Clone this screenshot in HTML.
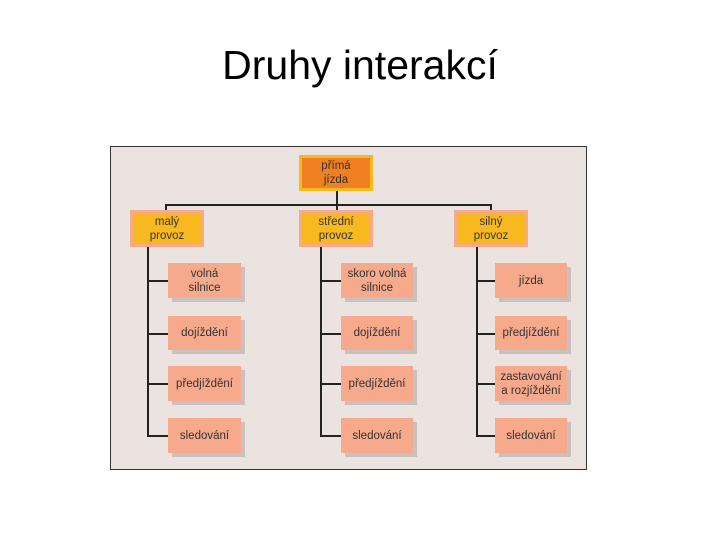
<!DOCTYPE html>
<html><head><meta charset="utf-8"><style>
body{margin:0;width:720px;height:540px;background:#fff;position:relative;font-family:"Liberation Sans",sans-serif;overflow:hidden}
.t{position:absolute;left:0;width:720px;top:42px;text-align:center;font-size:41px;color:#000}
.p{position:absolute;left:110px;top:146px;width:475px;height:322px;background:#ebe3df;border:1px solid #333}
.b{position:absolute;display:flex;align-items:center;justify-content:center;text-align:center;font-size:11.5px;line-height:14px;color:#333;box-sizing:border-box}
.c{background:#f6a98b;box-shadow:4px 4px 0 #c9c1bd}
.m{background:#f8b820;border:3px solid #f6a98b}
.l{position:absolute;background:#222}
</style></head><body>
<div class="t">Druhy interakcí</div>
<div class="p"></div>
<div class="b" style="left:299px;top:155px;width:74px;height:36px;background:#f08020;border:3px solid #f8b820">přímá<br>jízda</div>
<div class="l" style="left:336px;top:191px;width:2px;height:20px"></div>
<div class="l" style="left:165px;top:204px;width:327px;height:2px"></div>
<div class="l" style="left:165px;top:204px;width:2px;height:7px"></div>
<div class="l" style="left:490px;top:204px;width:2px;height:7px"></div>
<div class="b m" style="left:130px;top:210px;width:74px;height:37px">malý<br>provoz</div>
<div class="b m" style="left:299px;top:210px;width:74px;height:37px">střední<br>provoz</div>
<div class="b m" style="left:454px;top:210px;width:74px;height:37px">silný<br>provoz</div>
<div class="l" style="left:147px;top:247px;width:2px;height:189px"></div>
<div class="l" style="left:320px;top:247px;width:2px;height:189px"></div>
<div class="l" style="left:476px;top:247px;width:2px;height:189px"></div>
<div class="l" style="left:147px;top:280px;width:21px;height:2px"></div>
<div class="l" style="left:147px;top:333px;width:21px;height:2px"></div>
<div class="l" style="left:147px;top:383px;width:21px;height:2px"></div>
<div class="l" style="left:147px;top:435px;width:21px;height:2px"></div>
<div class="l" style="left:320px;top:280px;width:21px;height:2px"></div>
<div class="l" style="left:320px;top:333px;width:21px;height:2px"></div>
<div class="l" style="left:320px;top:383px;width:21px;height:2px"></div>
<div class="l" style="left:320px;top:435px;width:21px;height:2px"></div>
<div class="l" style="left:476px;top:280px;width:20px;height:2px"></div>
<div class="l" style="left:476px;top:333px;width:20px;height:2px"></div>
<div class="l" style="left:476px;top:383px;width:20px;height:2px"></div>
<div class="l" style="left:476px;top:435px;width:20px;height:2px"></div>
<div class="b c" style="left:168px;top:263px;width:73px;height:35px">volná<br>silnice</div>
<div class="b c" style="left:168px;top:316px;width:73px;height:34px">dojíždění</div>
<div class="b c" style="left:168px;top:366px;width:73px;height:35px">předjíždění</div>
<div class="b c" style="left:168px;top:418px;width:73px;height:35px">sledování</div>
<div class="b c" style="left:341px;top:263px;width:72px;height:35px">skoro volná<br>silnice</div>
<div class="b c" style="left:341px;top:316px;width:72px;height:34px">dojíždění</div>
<div class="b c" style="left:341px;top:366px;width:72px;height:35px">předjíždění</div>
<div class="b c" style="left:341px;top:418px;width:72px;height:35px">sledování</div>
<div class="b c" style="left:495px;top:263px;width:72px;height:35px">jízda</div>
<div class="b c" style="left:495px;top:316px;width:72px;height:34px">předjíždění</div>
<div class="b c" style="left:495px;top:366px;width:72px;height:35px">zastavování<br>a rozjíždění</div>
<div class="b c" style="left:495px;top:418px;width:72px;height:35px">sledování</div>
</body></html>
